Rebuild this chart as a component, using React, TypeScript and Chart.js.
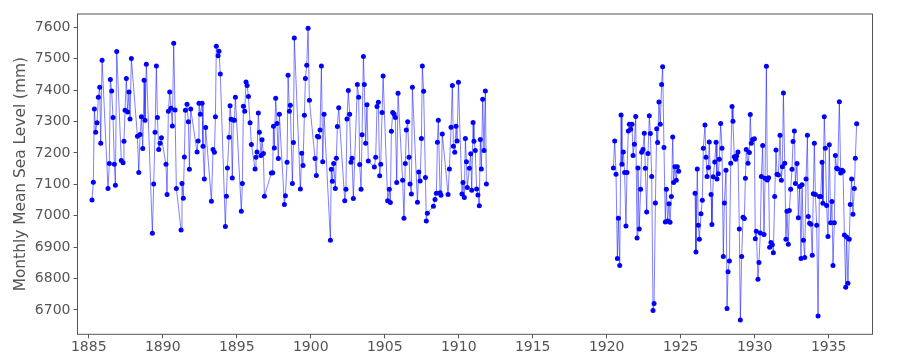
import React, { useEffect, useRef } from "react";
import { Chart, registerables } from "chart.js";

Chart.register(...registerables);

// Period 1885-1911 (decimal year, monthly mean sea level in mm)
const earlyYears = [
  1885.22, 1885.31, 1885.38, 1885.47, 1885.56, 1885.65, 1885.74, 1885.81, 1885.9,
  1886.3, 1886.39, 1886.46, 1886.55, 1886.64, 1886.73, 1886.8, 1886.89,
  1887.2, 1887.32, 1887.38, 1887.45, 1887.54, 1887.63, 1887.72, 1887.79, 1887.88,
  1888.29, 1888.38, 1888.47, 1888.56, 1888.65, 1888.74, 1888.8, 1888.89,
  1889.3, 1889.39, 1889.48, 1889.57, 1889.64, 1889.73, 1889.82, 1889.91,
  1890.22, 1890.29, 1890.38, 1890.47, 1890.56, 1890.65, 1890.74, 1890.83, 1890.92,
  1891.24, 1891.3, 1891.39, 1891.46, 1891.53, 1891.64, 1891.73, 1891.8, 1891.89,
  1892.32, 1892.39, 1892.45, 1892.54, 1892.66, 1892.72, 1892.81, 1892.9,
  1893.29, 1893.4, 1893.49, 1893.56, 1893.62, 1893.74, 1893.8, 1893.89,
  1894.23, 1894.3, 1894.37, 1894.48, 1894.55, 1894.62, 1894.7, 1894.77, 1894.84, 1894.91,
  1895.31, 1895.38, 1895.45, 1895.54, 1895.63, 1895.7, 1895.79, 1895.9, 1895.99,
  1896.24, 1896.3, 1896.37, 1896.46, 1896.53, 1896.64, 1896.71, 1896.8, 1896.87,
  1897.34, 1897.43, 1897.48, 1897.54, 1897.63, 1897.72, 1897.81, 1897.88,
  1898.22, 1898.29, 1898.4, 1898.47, 1898.56, 1898.62, 1898.76, 1898.83, 1898.89,
  1899.3, 1899.39, 1899.48, 1899.57, 1899.64, 1899.73, 1899.82, 1899.91,
  1900.29, 1900.38, 1900.45, 1900.54, 1900.63, 1900.72, 1900.81, 1900.9,
  1901.33, 1901.39, 1901.46, 1901.55, 1901.66, 1901.73, 1901.8, 1901.89,
  1902.3, 1902.38, 1902.45, 1902.54, 1902.63, 1902.72, 1902.79, 1902.88,
  1903.15, 1903.24, 1903.31, 1903.4, 1903.47, 1903.56, 1903.62, 1903.71, 1903.8, 1903.89,
  1904.3, 1904.39, 1904.48, 1904.57, 1904.66, 1904.73, 1904.82, 1904.89,
  1905.2, 1905.31, 1905.38, 1905.45, 1905.54, 1905.63, 1905.72, 1905.81, 1905.9,
  1906.21, 1906.3, 1906.39, 1906.46, 1906.55, 1906.64, 1906.71, 1906.8, 1906.87,
  1907.21, 1907.3, 1907.39, 1907.48, 1907.54, 1907.63, 1907.75, 1907.81, 1907.88,
  1908.29, 1908.4, 1908.49, 1908.56, 1908.62, 1908.74, 1908.8, 1908.89,
  1909.28, 1909.37, 1909.48, 1909.57, 1909.64, 1909.73, 1909.82, 1909.89, 1909.98,
  1910.22, 1910.29, 1910.38, 1910.45, 1910.52, 1910.58, 1910.72, 1910.81, 1910.88, 1910.97,
  1911.03, 1911.12, 1911.21, 1911.3, 1911.39, 1911.46, 1911.53, 1911.62, 1911.71, 1911.8, 1911.87,
];
const earlyLevels = [
  7050, 7107, 7340, 7266, 7296, 7377, 7409, 7231, 7495,
  7087, 7166, 7434, 7397, 7313, 7164, 7097, 7523,
  7176, 7169, 7237, 7336, 7437, 7330, 7394, 7308, 7501,
  7253, 7138, 7259, 7315, 7214, 7431, 7304, 7482,
  6944, 7101, 7266, 7477, 7313, 7211, 7231, 7248,
  7164, 7068, 7333, 7394, 7342, 7286, 7549, 7337, 7087,
  6955, 7103, 7056, 7187, 7336, 7355, 7299, 7148, 7340,
  7203, 7238, 7358, 7323, 7358, 7221, 7117, 7281,
  7046, 7211, 7202, 7315, 7540, 7509, 7524, 7451,
  6966, 7062, 7152, 7250, 7350, 7307, 7120, 7305, 7304, 7377,
  7014, 7103, 7349, 7333, 7426, 7415, 7380, 7296, 7227,
  7149, 7186, 7203, 7327, 7266, 7192, 7242, 7198, 7062,
  7136, 7137, 7285, 7216, 7374, 7294, 7182, 7323,
  7036, 7064, 7170, 7447, 7333, 7352, 7103, 7233, 7566,
  7085, 7199, 7160, 7320, 7437, 7479, 7597, 7368,
  7182, 7128, 7253, 7251, 7273, 7477, 7172, 7323,
  6922, 7148, 7110, 7166, 7087, 7183, 7284, 7344,
  7048, 7084, 7308, 7399, 7323, 7170, 7183, 7055,
  7418, 7377, 7163, 7084, 7258, 7507, 7418, 7231, 7353, 7174,
  7155, 7186, 7348, 7361, 7127, 7164, 7329, 7445,
  7048, 7084, 7042, 7269, 7329, 7324, 7313, 7106, 7390,
  7113, 6992, 7166, 7273, 7299, 7186, 7101, 7069, 7409,
  7043, 7139, 7111, 7246, 7477, 7396, 7122, 6983, 7008,
  7030, 7052, 7072, 7234, 7304, 7073, 7065, 7260,
  7068, 7149, 7282, 7415, 7221, 7202, 7285, 7238, 7425,
  7069, 7106, 7058, 7246, 7172, 7090, 7151, 7197, 7081, 7297,
  7237, 7208, 7085, 7066, 7032, 7243, 7149, 7371, 7208, 7397, 7101,
];

// Period 1920-1936
const lateYears = [
  1920.45, 1920.54, 1920.63, 1920.72, 1920.79, 1920.88, 1920.97,
  1921.03, 1921.12, 1921.21, 1921.3, 1921.37, 1921.46, 1921.53, 1921.62, 1921.71, 1921.78, 1921.87, 1921.96,
  1922.05, 1922.11, 1922.2, 1922.29, 1922.36, 1922.45, 1922.54, 1922.61, 1922.7, 1922.79, 1922.88, 1922.95,
  1923.04, 1923.13, 1923.2, 1923.29, 1923.38, 1923.44, 1923.53, 1923.62, 1923.71, 1923.78, 1923.87, 1923.96,
  1924.03, 1924.12, 1924.21, 1924.28, 1924.37, 1924.46, 1924.52, 1924.61, 1924.7, 1924.77, 1924.86,
  1925.97, 1926.03, 1926.12, 1926.19, 1926.26, 1926.37, 1926.46, 1926.53, 1926.64, 1926.71, 1926.78, 1926.87, 1926.93,
  1927.05, 1927.11, 1927.2, 1927.3, 1927.39, 1927.45, 1927.54, 1927.61, 1927.7, 1927.79, 1927.88, 1927.95,
  1928.06, 1928.13, 1928.2, 1928.29, 1928.38, 1928.47, 1928.53, 1928.62, 1928.71, 1928.78, 1928.87, 1928.96,
  1929.03, 1929.12, 1929.21, 1929.3, 1929.37, 1929.43, 1929.55, 1929.64, 1929.7, 1929.77, 1929.86, 1929.98,
  1930.04, 1930.11, 1930.22, 1930.29, 1930.38, 1930.45, 1930.54, 1930.63, 1930.7, 1930.79, 1930.85, 1930.94,
  1931.01, 1931.1, 1931.19, 1931.26, 1931.35, 1931.44, 1931.51, 1931.6, 1931.71, 1931.8, 1931.87, 1931.94,
  1932.03, 1932.11, 1932.18, 1932.27, 1932.34, 1932.43, 1932.52, 1932.59, 1932.68, 1932.75, 1932.86, 1932.95,
  1933.04, 1933.13, 1933.2, 1933.29, 1933.38, 1933.47, 1933.56, 1933.62, 1933.71, 1933.8, 1933.89, 1933.96,
  1934.03, 1934.1, 1934.19, 1934.28, 1934.37, 1934.46, 1934.55, 1934.61, 1934.7, 1934.77, 1934.86, 1934.95,
  1935.04, 1935.13, 1935.22, 1935.29, 1935.38, 1935.45, 1935.54, 1935.61, 1935.72, 1935.81, 1935.9, 1935.97,
  1936.06, 1936.15, 1936.21, 1936.3, 1936.39, 1936.46, 1936.55, 1936.64, 1936.73, 1936.8, 1936.89,
];
const lateLevels = [
  7152, 7238, 7132, 6864, 6992, 6842, 7321,
  7164, 7203, 7138, 6967, 7138, 7270, 7291, 7275, 7291, 7192, 7228, 7316,
  6929, 7152, 6958, 7084, 7202, 7211, 7263, 7151, 7012, 7198, 7318, 7262,
  7125, 6698, 6721, 7041, 7277, 7233, 7362, 7291, 7418, 7474, 7217, 6980,
  7084, 6983, 7038, 6979, 7061, 7251, 7106, 7156, 7113, 7156, 7142,
  7072, 6885, 7149, 6970, 6925, 7006, 7049, 7215, 7289, 7186, 7125, 7154, 7235,
  7068, 6972, 7124, 7171, 7234, 7117, 7134, 7180, 7294, 7215, 6870, 7041,
  7145, 6705, 6822, 6856, 7167, 7348, 7301, 7188, 7180, 7191, 7203, 6958,
  6668, 6870, 6995, 6991, 7119, 7211, 7167, 7201, 7322, 7231, 7243, 7245,
  6927, 6951, 6798, 6851, 6945, 7125, 7224, 6940, 7119, 7476, 7114, 7121,
  6900, 6915, 6908, 6882, 7061, 7209, 7132, 7130, 7256, 7113, 7156, 7391,
  7167, 6925, 7014, 6909, 7017, 7084, 7148, 7236, 7270, 7103, 7166, 6994,
  7093, 6864, 7099, 6922, 6867, 7117, 7256, 6998, 6976, 6973, 6874, 7070,
  7231, 7068, 6970, 6681, 7061, 7061, 7170, 7040, 7315, 7215, 7033, 6934,
  7226, 6978, 7045, 6842, 6978, 7192, 7151, 7149, 7363, 7136, 7145, 7142,
  6939, 6772, 6932, 6785, 6925, 7036, 7117, 7005, 7087, 7183, 7293,
];

const yAxisTitle = "Monthly Mean Sea Level (mm)";
const xRange = [1884.24, 1937.96];
const yRange = [6622.6, 7642.3];

export default function App() {
  const canvasRef = useRef<HTMLCanvasElement | null>(null);

  useEffect(() => {
    document.body.style.margin = "0";
    const years = [...earlyYears, ...lateYears];
    const levels = [...earlyLevels, ...lateLevels];
    const points = years.map((x, i) => ({ x, y: levels[i] }));

    const frame = {
      id: "frame",
      afterDatasetsDraw(chart: any) {
        const { ctx, chartArea: a } = chart;
        ctx.save();
        ctx.strokeStyle = "#555555";
        ctx.lineWidth = 1;
        ctx.strokeRect(a.left, a.top, a.right - a.left, a.bottom - a.top);
        ctx.restore();
      },
    };

    const tickFont = { family: "DejaVu Sans", size: 14 };
    const chart = new Chart(canvasRef.current as HTMLCanvasElement, {
      type: "line",
      data: {
        datasets: [
          {
            data: points,
            borderColor: "rgba(0,0,255,0.5)",
            borderWidth: 1,
            pointRadius: 2.5,
            pointHoverRadius: 2.5,
            pointBackgroundColor: "#0000ff",
            pointBorderWidth: 0,
            tension: 0,
            spanGaps: 0.8,
          },
        ],
      },
      options: {
        animation: false,
        responsive: true,
        maintainAspectRatio: false,
        layout: { padding: { left: 0, top: 14, right: 27.5, bottom: 0 } },
        plugins: { legend: { display: false }, tooltip: { enabled: false } },
        scales: {
          x: {
            type: "linear",
            min: xRange[0],
            max: xRange[1],
            afterFit: (s: any) => {
              s.height = 25.7;
            },
            border: { display: false },
            grid: { drawOnChartArea: false, drawTicks: true, tickLength: 4, color: "#555555" },
            ticks: {
              stepSize: 5,
              includeBounds: false,
              padding: 0.5,
              color: "#555555",
              font: tickFont,
              maxRotation: 0,
              autoSkip: false,
              callback: (v: any) => String(v),
            },
          },
          y: {
            type: "linear",
            min: yRange[0],
            max: yRange[1],
            afterFit: (s: any) => {
              s.width = 77.5;
            },
            border: { display: false },
            grid: { drawOnChartArea: false, drawTicks: true, tickLength: 4, color: "#555555" },
            ticks: {
              stepSize: 100,
              includeBounds: false,
              padding: 3,
              color: "#555555",
              font: tickFont,
              callback: (v: any) => String(v),
            },
            title: {
              display: true,
              text: yAxisTitle,
              color: "#555555",
              font: { family: "DejaVu Sans", size: 15.4 },
              padding: { top: 11.5, bottom: 0 },
            },
          },
        },
      },
      plugins: [frame],
    });
    return () => chart.destroy();
  }, []);

  return (
    <div style={{ position: "relative", width: 900, height: 360 }}>
      <canvas ref={canvasRef} />
    </div>
  );
}
